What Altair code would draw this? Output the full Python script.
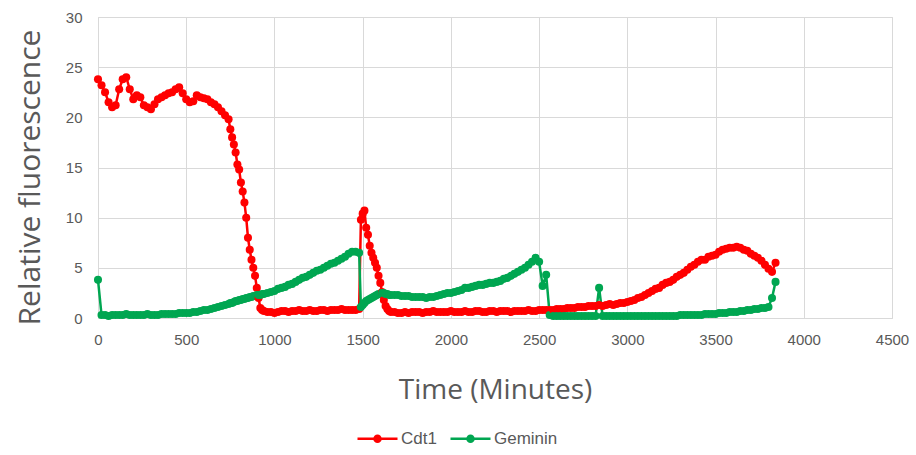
import altair as alt
import pandas as pd

# Sample times (minutes)
times = (list(range(0, 740, 20)) + list(range(740, 940, 10)) + list(range(940, 1480, 20))
         + list(range(1480, 1660, 10)) + list(range(1660, 3841, 20)))

cdt1 = (
    # 0..720 step 20
    [23.8, 23.2, 22.5, 21.5, 21.0, 21.2, 22.8, 23.8, 24.0, 22.8,
     21.8, 22.2, 22.0, 21.2, 21.0, 20.8, 21.3, 21.8, 22.0, 22.2,
     22.4, 22.5, 22.8, 23.0, 22.4, 21.8, 21.5, 21.6, 22.2, 22.0,
     21.9, 21.8, 21.5, 21.3, 21.0, 20.6, 20.2]
    # 740..930 step 10
    + [19.8, 18.8, 18.0, 17.3, 16.5, 15.3, 14.8, 13.5, 12.6, 11.5,
       10.0, 8.0, 6.8, 5.8, 5.0, 4.2, 3.0, 2.0, 1.0, 0.8]
    # 940..1460 step 20
    + [0.7, 0.6, 0.6, 0.5, 0.6, 0.7, 0.7, 0.6, 0.7, 0.7,
       0.8, 0.7, 0.7, 0.8, 0.7, 0.7, 0.8, 0.8, 0.7, 0.8,
       0.8, 0.8, 0.9, 0.8, 0.8, 0.8, 0.8]
    # 1480..1650 step 10
    + [0.9, 9.8, 10.4, 10.7, 9.0, 8.3, 7.2, 6.5, 6.0, 5.5,
       5.0, 4.2, 3.5, 2.6, 1.8, 1.2, 0.9, 0.7]
    # 1660..3840 step 20
    + [0.6, 0.6, 0.5, 0.5, 0.6, 0.5, 0.6, 0.6, 0.6, 0.5,
       0.6, 0.6, 0.7, 0.6, 0.6, 0.6, 0.6, 0.7, 0.6, 0.6,
       0.6, 0.7, 0.6, 0.6, 0.7, 0.7, 0.6, 0.6, 0.7, 0.7,
       0.6, 0.7, 0.7, 0.7, 0.6, 0.7, 0.7, 0.7, 0.7, 0.8,
       0.7, 0.7, 0.8, 0.8, 0.8]
    + [0.8, 0.8, 0.9, 0.9, 0.9, 1.0, 1.0, 1.0, 1.1, 1.1, 1.1, 1.2, 1.2]
    + [1.2, 1.3, 1.2, 1.3, 1.4, 1.3, 1.4, 1.5, 1.5, 1.6,
       1.7, 1.8, 2.0, 2.1, 2.3, 2.5, 2.7, 2.9, 3.0, 3.3,
       3.5, 3.6, 3.8, 4.1, 4.3, 4.5, 4.8, 5.1, 5.3, 5.6,
       5.8, 5.8, 6.1, 6.2, 6.3, 6.6, 6.8, 6.9, 7.0, 7.0,
       7.1, 7.0, 6.8, 6.7, 6.4, 6.2, 6.0, 5.7, 5.3, 4.9,
       4.6, 5.5]
)

geminin = (
    [3.8, 0.3, 0.3, 0.2, 0.3, 0.3, 0.3, 0.3, 0.4, 0.3,
     0.3, 0.3, 0.3, 0.3, 0.4, 0.3, 0.3, 0.3, 0.4, 0.4,
     0.4, 0.4, 0.4, 0.5, 0.5, 0.5, 0.5, 0.6, 0.6, 0.7,
     0.8, 0.8, 0.9, 1.0, 1.1, 1.2, 1.3]
    + [1.4, 1.5, 1.5, 1.6, 1.7, 1.7, 1.8, 1.8, 1.9, 1.9,
       2.0, 2.0, 2.1, 2.1, 2.2, 2.2, 2.3, 2.3, 2.3, 2.4]
    + [2.4, 2.5, 2.6, 2.7, 2.9, 3.0, 3.1, 3.3, 3.4, 3.6,
       3.8, 4.0, 4.1, 4.3, 4.5, 4.7, 4.8, 5.0, 5.2, 5.4,
       5.5, 5.7, 5.9, 6.1, 6.4, 6.6, 6.6]
    + [6.5, 1.1, 1.3, 1.5, 1.7, 1.8, 1.9, 2.0, 2.1, 2.2,
       2.3, 2.4, 2.4, 2.5, 2.5, 2.4, 2.4, 2.3]
    + [2.3, 2.3, 2.3, 2.2, 2.2, 2.2, 2.1, 2.1, 2.1, 2.1,
       2.0, 2.1, 2.1, 2.2, 2.3, 2.4, 2.5, 2.5, 2.6, 2.7,
       2.8, 3.0, 3.0, 3.1, 3.2, 3.3, 3.3, 3.4, 3.5, 3.5,
       3.6, 3.7, 3.9, 4.0, 4.2, 4.4, 4.6, 4.8, 5.0, 5.3,
       5.6, 6.0, 5.6, 3.2, 4.3]
    + [0.3, 0.2, 0.2, 0.2, 0.2, 0.2, 0.2, 0.2, 0.2, 0.2, 0.2, 0.2, 0.2]
    + [0.2, 3.0, 0.2, 0.2, 0.2, 0.2, 0.2, 0.2, 0.2, 0.2,
       0.2, 0.2, 0.2, 0.2, 0.2, 0.2, 0.2, 0.2, 0.2, 0.2,
       0.2, 0.2, 0.2, 0.2, 0.3, 0.3, 0.3, 0.3, 0.3, 0.3,
       0.3, 0.4, 0.4, 0.4, 0.4, 0.5, 0.5, 0.5, 0.6, 0.6,
       0.6, 0.7, 0.7, 0.8, 0.8, 0.9, 0.9, 1.0, 1.0, 1.1,
       2.0, 3.6]
)

series_names = ["Cdt1", "Geminin"]
series_colors = ["#FF0000", "#00A651"]
x_ticks = list(range(0, 4501, 500))
y_ticks = list(range(0, 31, 5))

assert len(times) == len(cdt1) == len(geminin), (len(times), len(cdt1), len(geminin))

df = pd.concat([
    pd.DataFrame({"Time": times, "Value": cdt1, "Series": "Cdt1"}),
    pd.DataFrame({"Time": times, "Value": geminin, "Series": "Geminin"}),
], ignore_index=True)

txt = "#595959"
label_font = "Liberation Sans Narrow, Arial Narrow, Liberation Sans, sans-serif"
title_font = "Open Sans, Liberation Sans, sans-serif"

legend_path = ("M-1,0L1,0"
               "M0.15,0A0.15,0.15,0,1,1,-0.15,0A0.15,0.15,0,1,1,0.15,0"
               "M0.06,0A0.06,0.06,0,1,1,-0.06,0A0.06,0.06,0,1,1,0.06,0")

chart = alt.Chart(df).mark_line(
    strokeWidth=2.5,
    point=alt.OverlayMarkDef(filled=True, size=65, opacity=1),
).encode(
    x=alt.X("Time:Q", scale=alt.Scale(domain=[0, 4500], nice=False),
            axis=alt.Axis(values=x_ticks, format="d", title="Time (Minutes)", grid=True,
                          ticks=False, domain=False, labelPadding=14, labelFontSize=15,
                          labelColor=txt, labelFont=label_font, titleFont=title_font,
                          titleFontSize=28, titleFontWeight="normal", titleColor=txt,
                          titleY=72, titleBaseline="middle", labelFlush=False)),
    y=alt.Y("Value:Q", scale=alt.Scale(domain=[0, 30], nice=False),
            axis=alt.Axis(values=y_ticks, format="d", title="Relative fluorescence", grid=True,
                          ticks=False, domain=False, labelPadding=16, labelFontSize=15,
                          labelColor=txt, labelFont=label_font, titleFont=title_font,
                          titleFontSize=30, titleFontWeight="normal", titleColor=txt,
                          titleX=-68, titleY=160, titleAlign="center",
                          titleBaseline="middle")),
    color=alt.Color("Series:N", scale=alt.Scale(domain=series_names, range=series_colors),
                    legend=alt.Legend(title=None, orient="none", direction="horizontal",
                                      legendX=258, legendY=400, symbolType=legend_path,
                                      symbolSize=1600, symbolStrokeWidth=2.5,
                                      labelFontSize=17, labelColor=txt, labelFont=label_font,
                                      columnPadding=8, labelOffset=2)),
    order=alt.Order("Time:Q"),
).properties(
    width=794, height=301,
    autosize=alt.AutoSizeParams(type="none"),
    padding={"left": 98, "top": 17, "right": 24, "bottom": 137},
).configure_view(
    stroke="#D9D9D9", strokeWidth=1
).configure_axis(
    gridColor="#D9D9D9", gridWidth=1
)

chart.save("out.html", embed_options={"renderer": "svg", "actions": False})
